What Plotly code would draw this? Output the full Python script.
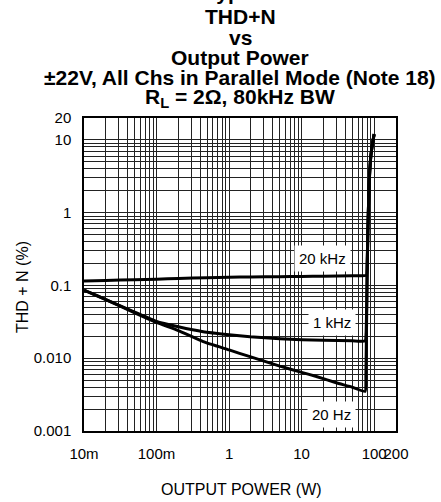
import math
import plotly.graph_objects as go

# ---------------- data ----------------
power_20khz = [0.01, 0.02, 0.05, 0.1, 0.2, 0.5, 1, 2, 5, 10, 20, 50, 78, 80, 82, 84, 86, 90, 95, 100]
thd_20khz = [0.115, 0.117, 0.12, 0.122, 0.125, 0.128, 0.13, 0.131, 0.132, 0.133, 0.134, 0.136, 0.138, 0.2, 0.6, 1.5, 3, 6, 9, 12]

power_1khz = [0.01, 0.02, 0.05, 0.1, 0.2, 0.44, 1, 1.94, 5, 10, 20, 50, 75, 78, 80, 82, 84, 86, 90, 95, 100]
thd_1khz = [0.086, 0.064, 0.043, 0.032, 0.027, 0.0231, 0.021, 0.0197, 0.0185, 0.018, 0.0177, 0.0174, 0.0173, 0.03, 0.14, 0.6, 1.5, 3, 6, 9, 12]

power_20hz = [0.01, 0.02, 0.05, 0.1, 0.2, 0.44, 1, 1.94, 5, 10, 16, 30, 50, 75, 77, 80, 82, 84, 86, 90, 95, 100]
thd_20hz = [0.086, 0.064, 0.042, 0.031, 0.024, 0.0169, 0.013, 0.0105, 0.0078, 0.0064, 0.0056, 0.0046, 0.0040, 0.0035, 0.006, 0.14, 0.6, 1.5, 3, 6, 9, 12]

x_tick_vals = [0.01, 0.1, 1, 10, 100, 200]
x_tick_text = ["10m", "100m", "1", "10", "100", "200"]
y_tick_vals = [0.001, 0.01, 0.1, 1, 10, 20]
y_tick_text = ["0.001", "0.010", "0.1", "1", "10", "20"]

x_decades = [0.01, 0.1, 1, 10]
y_decades = [0.001, 0.01, 0.1, 1]

curve_labels = ["20 kHz", "1 kHz", "20 Hz"]
label_power = [19.2, 26.3, 25.5]
label_thd = [0.238, 0.0305, 0.00171]

title_lines = ["Typical", "THD+N", "vs", "Output Power",
               "±22V, All Chs in Parallel Mode (Note 18)",
               "R<sub>L</sub> = 2Ω, 80kHz BW"]

# ---------------- layout helpers ----------------
W, H = 441, 502
L, R, T, B = 84, 45, 118, 71
PH = H - T - B
PW = W - L - R


def py(p):
    return (H - B - p) / PH


def px(p):
    return (p - L) / PW


def grid_ticks(decades, extra, vals, texts):
    allv = []
    for d in decades:
        for m in range(1, 10):
            allv.append(round(m * d, 6))
    for e in extra:
        allv.append(e)
    allv = sorted(set(allv))
    lab = {round(v, 6): t for v, t in zip(vals, texts)}
    return allv, [lab.get(round(v, 6), "") for v in allv]


xv, xt = grid_ticks(x_decades, [100, 200], x_tick_vals, x_tick_text)
yv, yt = grid_ticks(y_decades, [10, 20], y_tick_vals, y_tick_text)

FONT = "Liberation Sans, Arial, sans-serif"

fig = go.Figure()
for xs, ys in [(power_20khz, thd_20khz), (power_1khz, thd_1khz), (power_20hz, thd_20hz)]:
    fig.add_trace(go.Scatter(x=xs, y=ys, mode="lines",
                             line=dict(color="black", width=3, shape="spline", smoothing=0.4),
                             showlegend=False, hoverinfo="skip"))

axis_common = dict(showgrid=True, gridcolor="#222", gridwidth=1,
                   showline=True, linecolor="black", linewidth=1.5, mirror=True,
                   ticks="", zeroline=False, tickfont=dict(family=FONT, size=15, color="black"))

fig.update_xaxes(type="log", range=[-2, 2.30103], tickmode="array", tickvals=xv, ticktext=xt,
                 tickangle=0, ticklabelstandoff=8, **axis_common)
fig.update_yaxes(type="log", range=[-3, 1.30103], tickmode="array", tickvals=yv, ticktext=yt,
                 ticklabelstandoff=8, **axis_common)

ann = []
title_y = [-8, 17, 37, 57, 78, 98]
for txt, yy in zip(title_lines, title_y):
    ann.append(dict(text="<b>" + txt + "</b>", xref="paper", yref="paper",
                    x=0.5, y=py(yy), xanchor="center", yanchor="middle",
                    showarrow=False, font=dict(family=FONT, size=21, color="black")))

for t, xp, yp in zip(curve_labels, label_power, label_thd):
    ann.append(dict(text=t, x=math.log10(xp), y=math.log10(yp), xref="x", yref="y",
                    showarrow=False, bgcolor="white", borderpad=4,
                    font=dict(family=FONT, size=15, color="black")))

ann.append(dict(text="THD + N (%)", xref="paper", yref="paper", x=px(22), y=py(287),
                xanchor="center", yanchor="middle", textangle=-90, showarrow=False,
                font=dict(family=FONT, size=16, color="black")))
ann.append(dict(text="OUTPUT POWER (W)", xref="paper", yref="paper", x=px(241), y=py(490),
                xanchor="center", yanchor="middle", showarrow=False,
                font=dict(family=FONT, size=16, color="black")))

fig.update_layout(width=W, height=H, margin=dict(l=L, r=R, t=T, b=B),
                  paper_bgcolor="white", plot_bgcolor="white", annotations=ann)

fig.write_html("out.html", config={"displayModeBar": False},
               post_script="document.body.style.margin='0';document.body.style.overflow='hidden';")
